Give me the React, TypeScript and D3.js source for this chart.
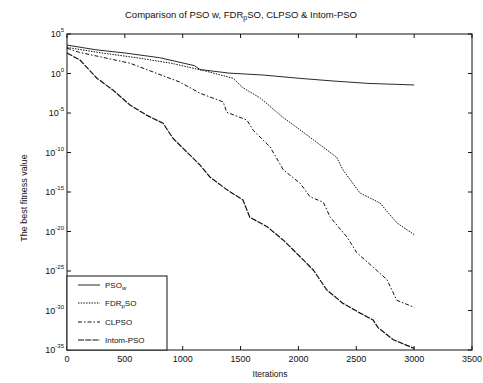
import React from "react";
import * as d3 from "d3";

// ---- data (log10 of best fitness value) ----
const psoWIter = [0, 250, 500, 800, 1100, 1150, 1400, 1700, 2000, 2300, 2600, 3000];
const psoWLog = [3.6, 3.0, 2.6, 2.0, 1.0, 0.5, 0.05, -0.2, -0.6, -0.95, -1.25, -1.45];

const fdrIter = [0, 300, 600, 900, 1200, 1435, 1520, 1670, 1870, 1955, 2130, 2330, 2385, 2530, 2705, 2850, 3000];
const fdrLog = [3.3, 2.6, 2.0, 1.3, 0.3, -0.6, -1.8, -3.1, -5.6, -6.5, -8.4, -10.6, -12.2, -15.1, -16.4, -18.9, -20.4];

const clIter = [0, 100, 545, 977, 1150, 1350, 1380, 1555, 1610, 1755, 1870, 2015, 2100, 2215, 2275, 2420, 2505, 2645, 2765, 2850, 3000];
const clLog = [3.2, 2.7, 1.3, -1.1, -2.5, -3.6, -4.9, -5.9, -7.2, -9.3, -12.2, -13.9, -15.6, -16.3, -18.2, -20.7, -22.7, -24.5, -26.1, -28.7, -29.6];

const intIter = [0, 112, 259, 397, 545, 691, 830, 916, 1150, 1235, 1380, 1520, 1580, 1730, 1870, 2015, 2130, 2245, 2385, 2530, 2645, 2690, 2820, 3000];
const intLog = [2.6, 1.7, -0.6, -2.1, -4.0, -5.3, -6.3, -8.2, -11.6, -13.1, -14.7, -16.0, -18.2, -19.4, -21.1, -23.2, -24.9, -27.4, -29.1, -30.3, -31.2, -32.2, -33.7, -34.8];

const xTicks = [0, 500, 1000, 1500, 2000, 2500, 3000, 3500];
const yTickExps = [5, 0, -5, -10, -15, -20, -25, -30, -35];

const seriesNames = ["PSO", "FDR", "CLPSO", "Intom-PSO"];

export default function App() {
  const W = 483, H = 383;
  const L = 67, R = 472, T = 34, B = 350;
  const x = d3.scaleLinear().domain([0, 3500]).range([L, R]);
  const y = d3.scaleLog().domain([1e-35, 1e5]).range([B, T]);
  const line = d3
    .line<[number, number]>()
    .x((d) => x(d[0]))
    .y((d) => y(Math.pow(10, d[1])));

  const series = [
    { iter: psoWIter, lg: psoWLog, dash: "none", w: 0.9 },
    { iter: fdrIter, lg: fdrLog, dash: "1.5,1.2", w: 1 },
    { iter: clIter, lg: clLog, dash: "4,2,1.5,2", w: 1 },
    { iter: intIter, lg: intLog, dash: "6,1.2", w: 1.2 },
  ];

  const font = "'Liberation Sans', Arial, sans-serif";
  const col = "#111";
  const legY = [285, 303, 322, 340];

  return (
    <svg width={W} height={H} style={{ position: "absolute", left: 0, top: 0, background: "#fff" }} fontFamily={font}>
      <rect x={0} y={0} width={W} height={H} fill="#fff" />
      {/* title */}
      <text x={241} y={18} fontSize={9.5} textAnchor="middle" fill={col}>
        Comparison of PSO w, FDR
        <tspan fontSize={7} dy={2}>p</tspan>
        <tspan dy={-2}>SO, CLPSO &amp; Intom-PSO</tspan>
      </text>

      {/* curves */}
      <g clipPath="url(#clip)">
        {series.map((s, i) => (
          <path
            key={i}
            d={line(s.iter.map((v, k) => [v, s.lg[k]] as [number, number])) || ""}
            fill="none"
            stroke={col}
            strokeWidth={s.w}
            strokeDasharray={s.dash}
          />
        ))}
      </g>
      <defs>
        <clipPath id="clip">
          <rect x={L} y={T} width={R - L} height={B - T} />
        </clipPath>
      </defs>

      {/* axes box */}
      <rect x={L} y={T} width={R - L} height={B - T} fill="none" stroke={col} strokeWidth={1} />

      {/* x ticks */}
      {xTicks.map((t) => (
        <g key={"x" + t}>
          <line x1={x(t)} x2={x(t)} y1={B} y2={B - 4} stroke={col} />
          <line x1={x(t)} x2={x(t)} y1={T} y2={T + 4} stroke={col} />
          <text x={x(t)} y={362} fontSize={9} textAnchor="middle" fill={col}>
            {t}
          </text>
        </g>
      ))}

      {/* y ticks */}
      {yTickExps.map((e) => {
        const yy = y(Math.pow(10, e));
        return (
          <g key={"y" + e}>
            <line x1={L} x2={L + 4} y1={yy} y2={yy} stroke={col} />
            <line x1={R} x2={R - 4} y1={yy} y2={yy} stroke={col} />
            <text x={64} y={yy + 3} fontSize={9} textAnchor="end" fill={col}>
              10
              <tspan fontSize={6} dy={-5}>{String(e)}</tspan>
            </text>
          </g>
        );
      })}

      {/* axis labels */}
      <text x={270} y={377} fontSize={8.5} textAnchor="middle" fill={col}>
        Iterations
      </text>
      <text
        transform={`translate(27,${(T + B) / 2 + 6}) rotate(-90)`}
        fontSize={9}
        textAnchor="middle"
        fill={col}
      >
        The best fitness value
      </text>

      {/* legend */}
      <rect x={L} y={276} width={100} height={B - 276} fill="#fff" stroke={col} strokeWidth={1} />
      {series.map((s, i) => (
        <g key={"l" + i}>
          <line x1={78} x2={100} y1={legY[i]} y2={legY[i]} stroke={col} strokeWidth={s.w} strokeDasharray={s.dash} />
          <text x={105} y={legY[i] + 3} fontSize={8} fill={col}>
            {i === 0 ? (
              <>
                PSO<tspan fontSize={6} dy={2}>w</tspan>
              </>
            ) : i === 1 ? (
              <>
                FDR<tspan fontSize={6} dy={2}>p</tspan>
                <tspan dy={-2}>SO</tspan>
              </>
            ) : (
              seriesNames[i]
            )}
          </text>
        </g>
      ))}
    </svg>
  );
}
